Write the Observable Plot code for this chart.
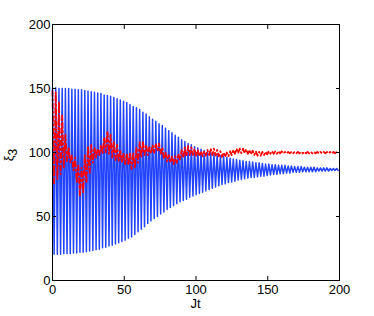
<!DOCTYPE html>
<html><head><meta charset="utf-8">
<script src="https://cdn.jsdelivr.net/npm/d3@7"></script>
<script src="https://cdn.jsdelivr.net/npm/@observablehq/plot@0.6"></script>
<style>body{margin:0;background:#fff;} svg{display:block}</style>
</head><body><div id="chart"></div>
<script>
const xTicks = [0, 50, 100, 150, 200];
const yTicks = [0, 50, 100, 150, 200];
const xLabel = "Jt";
const yLabelMain = "ξ";
const yLabelSub = "3";
const period = 2.25;

// blue: maxima at t = k*period, minima at t = k*period + period/2
const blueHi = [150.5,150.5,150,150,150,150,149.5,149.5,149,149,148.5,148,147.5,147,146.5,146,145,144.5,144,143,142,141,140,139,137.5,136,135,133.5,131.5,130,128,126,124.5,122.5,121,119,117,115.5,113.5,112,110,108.5,107,106,104.5,103.5,102.5,101.5,101,100,99,98.5,97.5,97,96,95.5,95,94.5,94,93.5,93,93,92.5,92,92,91.5,91,91,90.5,90.5,90,90,90,89.5,89.5,89,89,89,88.5,88.5,88.5,88.5,88,88,88,88,87.5,87.5,87.5];
const blueLo = [20.5,20.5,20.5,21,21,21,21.5,21.5,22,22,22.5,23,23.5,24,24.5,25.5,26,27,27.5,28.5,29.5,30.5,31.5,33,34,36,38,40,42,44.5,46.5,48.5,50,52,53.5,55.5,57,58.5,60,61.5,62.5,63.5,65,66,67,68,69,70,71,72,73,74,75,75.5,76.5,77,77.5,78.5,79,79.5,80,80.5,80.5,81,81.5,81.5,82,82.5,83,83,83.5,83.5,84,84,84.5,84.5,84.5,85,85,85,85,85,85.5,85.5,85.5,85.5,86,86,86];
// red: same sampling
const redHi = [148,147,140,129,114,104,98,96,90,88,98,105,106,104,103,106,112,117,114,109,106,102,99,99,100,100,104,108,109,106,104,106,107,107,104,100,98,97,97,99,102,104,105,104,103,102,101,101,102,103,103,102,101,100,100,101,102,103,103,103,102.5,102,101.5,101,100.5,100.5,100.5,101,101,101,101,101,100.5,100.5,100.5,100.5,100.5,100.5,100.5,100.5,100.5,100.5,100.5,100.5,100.5,100.5,100.5,100.5,100.5];
const redLo = [76,79,83,88,93,92,86,77,66,69,76,84,92,96,98,99,100,99,96,94,93,92,91,90,87,88,92,96,98,98,99,100,101,99,95,93,92,91,92,94,96,97,98,98,97,97,97,97.5,98,98,97.5,97,96.5,96.5,97,98,99,99.5,99.5,99.5,99,98.5,98,97.5,97.5,98,98.5,99,99,99,99.3,99.3,99.3,99.3,99.3,99.3,99.3,99.3,99.3,99.3,99.3,99.3,99.3,99.3,99.3,99.3,99.3,99.3,99.3];

function zigzag(hi, lo, series) {
  const out = [];
  hi.forEach((v, k) => {
    out.push({t: k * period, v, series});
    if (k < lo.length) out.push({t: k * period + period / 2, v: lo[k], series});
  });
  return out;
}
const blue = zigzag(blueHi, blueLo, "blue");
const red = zigzag(redHi, redLo, "red");

const W = 374, H = 316, ML = 52, MR = 35, MT = 24, MB = 36;
const chart = Plot.plot({
  width: W, height: H,
  marginLeft: ML, marginRight: MR, marginTop: MT, marginBottom: MB,
  style: {fontFamily: "'Liberation Sans', Arial, sans-serif", fontSize: "13px", background: "white", color: "black"},
  x: {domain: [0, 200]},
  y: {domain: [0, 200]},
  marks: [
    Plot.line(blue, {x: "t", y: "v", stroke: "#2244ff", strokeWidth: 1.5}),
    Plot.line(red, {x: "t", y: "v", stroke: "#ff0000", strokeWidth: 1.8, strokeDasharray: "5,3,1.5,3"}),
    Plot.frame({stroke: "black"}),
    Plot.axisX(xTicks, {anchor: "bottom", tickSize: -4, tickPadding: 8, label: null}),
    Plot.axisX(xTicks, {anchor: "top", tickSize: -4, tickFormat: () => "", label: null}),
    Plot.axisY(yTicks, {anchor: "left", tickSize: -4, tickPadding: 6, label: null}),
    Plot.axisY(yTicks, {anchor: "right", tickSize: -4, tickFormat: () => "", label: null})
  ]
});
document.getElementById("chart").appendChild(chart);
const svg = d3.select(chart);
svg.append("text").attr("x", ML + (W - ML - MR) / 2).attr("y", 308)
  .attr("text-anchor", "middle").attr("font-size", 13).attr("fill", "black").text(xLabel);
const yl = svg.append("text").attr("transform", `translate(13,${MT + (H - MT - MB) / 2 + 3}) rotate(-90)`)
  .attr("text-anchor", "middle").attr("font-size", 13).attr("fill", "black");
yl.append("tspan").text(yLabelMain);
yl.append("tspan").attr("dy", 4).attr("font-size", 12).text(yLabelSub);
</script></body></html>
